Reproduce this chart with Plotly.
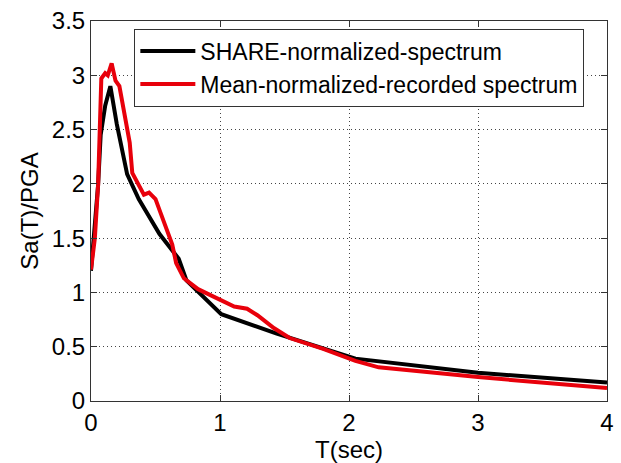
import plotly.graph_objects as go

# SHARE-normalized spectrum
share_T = [0.0, 0.055, 0.075, 0.11, 0.15, 0.20, 0.28, 0.37, 0.53, 0.68, 0.74, 1.01, 1.44, 2.05, 3.0, 4.0]
share_S = [1.2, 1.99, 2.45, 2.72, 2.9, 2.55, 2.09, 1.86, 1.54, 1.31, 1.11, 0.80, 0.62, 0.39, 0.26, 0.17]

# Mean-normalized recorded spectrum
rec_T = [0.0, 0.03, 0.055, 0.07, 0.08, 0.11, 0.13, 0.16, 0.19, 0.22, 0.26, 0.30, 0.32,
         0.37, 0.41, 0.45, 0.50, 0.54, 0.58, 0.63, 0.66, 0.72, 0.83, 0.96, 1.01, 1.11,
         1.21, 1.29, 1.42, 1.54, 1.80, 2.05, 2.23, 3.0, 4.0]
rec_S = [1.21, 1.5, 1.99, 2.5, 2.97, 3.02, 3.0, 3.11, 2.95, 2.9, 2.65, 2.38, 2.1,
         1.98, 1.9, 1.92, 1.86, 1.73, 1.59, 1.44, 1.27, 1.13, 1.03, 0.96, 0.93, 0.87,
         0.85, 0.79, 0.67, 0.58, 0.48, 0.37, 0.31, 0.22, 0.12]

x_ticks = [0, 1, 2, 3, 4]
y_ticks = [0, 0.5, 1, 1.5, 2, 2.5, 3, 3.5]
y_ticklabels = ["0", "0.5", "1", "1.5", "2", "2.5", "3", "3.5"]

fig = go.Figure()
fig.add_trace(go.Scatter(x=share_T, y=share_S, mode="lines",
                         line=dict(color="black", width=4),
                         name="SHARE-normalized-spectrum"))
fig.add_trace(go.Scatter(x=rec_T, y=rec_S, mode="lines",
                         line=dict(color="#e8000b", width=4),
                         name="Mean-normalized-recorded spectrum"))

fam = "Liberation Sans, Arial, sans-serif"
font = dict(family=fam, size=24, color="black")
legfont = dict(family=fam, size=23, color="black")

axis_common = dict(showline=True, linecolor="#333333", linewidth=1, mirror="ticks",
                   ticks="inside", ticklen=6, tickcolor="#333333",
                   showgrid=True, gridcolor="#444444", griddash="1px,3px", gridwidth=1,
                   zeroline=False, tickfont=font)

fig.update_xaxes(range=[0, 4], tickvals=x_ticks, ticktext=[str(v) for v in x_ticks],
                 title=dict(text="T(sec)", font=font, standoff=2), **axis_common)
fig.update_yaxes(range=[0, 3.5], tickvals=y_ticks, ticktext=y_ticklabels,
                 title=dict(text="Sa(T)/PGA", font=font, standoff=6), **axis_common)

fig.update_layout(
    width=621, height=463,
    margin=dict(l=91, r=7, t=17, b=62),
    paper_bgcolor="white", plot_bgcolor="white",
    font=font,
    showlegend=True,
    legend=dict(x=0.084, y=0.98, xanchor="left", yanchor="top",
                bgcolor="white", bordercolor="#333333", borderwidth=1,
                font=legfont, itemwidth=55, tracegroupgap=0),
)

fig.write_html("out.html")
